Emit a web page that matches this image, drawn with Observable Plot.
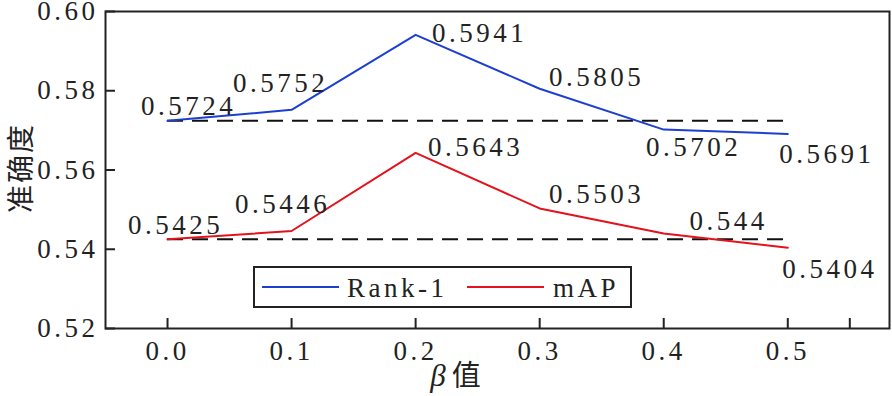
<!DOCTYPE html>
<html><head><meta charset="utf-8">
<script src="https://cdn.jsdelivr.net/npm/d3@7"></script>
<script src="https://cdn.jsdelivr.net/npm/@observablehq/plot@0.6"></script>
<style>
body{margin:0;background:#fff;}
#chart{position:relative;width:892px;height:396px;}
#chart svg text{letter-spacing:3.5px;font-family:'Liberation Serif','Times New Roman','DejaVu Serif',serif;}
#chart svg text.cjk{letter-spacing:2px;font-family:'Noto Sans CJK SC',sans-serif;}
#legend{position:absolute;left:253px;top:266px;}
</style></head>
<body><div id="chart"></div>
<script>
const betas = [0, 0.1, 0.2, 0.3, 0.4, 0.5];
const rank1 = [0.5724, 0.5752, 0.5941, 0.5805, 0.5702, 0.5691];
const mAP = [0.5425, 0.5446, 0.5643, 0.5503, 0.544, 0.5404];
const rank1Labels = ["0.5724", "0.5752", "0.5941", "0.5805", "0.5702", "0.5691"];
const mAPLabels = ["0.5425", "0.5446", "0.5643", "0.5503", "0.544", "0.5404"];
const seriesNames = ["Rank-1", "mAP"];
const seriesColors = ["#1c3fd2", "#e3121b"];
const xTickValues = [0, 0.1, 0.2, 0.3, 0.4, 0.5, 0.55];
const xTickLabels = ["0.0", "0.1", "0.2", "0.3", "0.4", "0.5", ""];
const yTickValues = [0.52, 0.54, 0.56, 0.58, 0.60];
const yTickLabels = ["0.52", "0.54", "0.56", "0.58", "0.60"];
const xLabelSymbol = "β";
const xLabelText = "值";
const yLabel = "准确度";

// label placement (pixel offsets from each point)
const rank1Dx = [21, -11, 64, 57, 30, 39], rank1Dy = [-6, -18, 7, -3, 26, 29];
const mapDx = [8, -9, 60, 57, 65, 42], mapDy = [-5, -18, 3, -5, -3, 30];

const rows = [];
betas.forEach((b, i) => rows.push({beta: b, value: rank1[i], series: seriesNames[0]}));
betas.forEach((b, i) => rows.push({beta: b, value: mAP[i], series: seriesNames[1]}));
const baselines = [rank1[0], mAP[0]];

const labelMarks = [];
[[rank1, rank1Labels, rank1Dx, rank1Dy], [mAP, mAPLabels, mapDx, mapDy]].forEach(([vals, labs, dxs, dys]) => {
  betas.forEach((b, i) => labelMarks.push(Plot.text([i], {
    x: j => betas[j], y: j => vals[j], text: j => labs[j],
    dx: dxs[i], dy: dys[i], lineAnchor: "bottom", textAnchor: "middle",
    fontSize: 27, fill: "#222"
  })));
});

const plot = Plot.plot({
  width: 892, height: 396,
  marginLeft: 105, marginRight: 3, marginTop: 11, marginBottom: 68,
  style: {background: "#fff", color: "#222"},
  x: {domain: [-0.05, 0.582]},
  y: {domain: [0.52, 0.60]},
  color: {domain: seriesNames, range: seriesColors},
  marks: [
    Plot.ruleY(baselines, {x1: betas[0], x2: betas[betas.length - 1], stroke: "#111", strokeWidth: 2, strokeDasharray: "16,9"}),
    Plot.line(rows, {x: "beta", y: "value", z: "series", stroke: "series", strokeWidth: 2}),
    ...labelMarks,
    Plot.axisX({ticks: xTickValues, tickFormat: d => xTickLabels[xTickValues.indexOf(d)], tickSize: -10, tickPadding: 22, fontSize: 27, strokeWidth: 2, label: null}),
    Plot.axisY({ticks: yTickValues, tickFormat: d => yTickLabels[yTickValues.findIndex(v => Math.abs(v - d) < 1e-9)], tickSize: -10, tickPadding: 17, fontSize: 27, strokeWidth: 2, label: null}),
    Plot.text([yLabel], {frameAnchor: "left", textAnchor: "middle", lineAnchor: "middle", dx: -83, dy: -2, rotate: -90, fontSize: 28, fill: "#222"}),
    Plot.text([xLabelSymbol + xLabelText], {frameAnchor: "bottom", textAnchor: "middle", lineAnchor: "middle", dx: -41, dy: 48, fontSize: 29, fill: "#222"}),
    Plot.frame({stroke: "#222", strokeWidth: 2})
  ]
});
document.getElementById("chart").appendChild(plot);
d3.select(plot).selectAll("text").filter(function() { return /[\u4e00-\u9fff]/.test(this.textContent); })
  .classed("cjk", true)
  .each(function() {
    const t = d3.select(this);
    if (t.text() === xLabelSymbol + xLabelText) {
      t.text(null);
      t.append("tspan").text(xLabelSymbol).style("font-family", "'Liberation Serif','DejaVu Serif',serif").style("font-style", "italic").style("font-size", "31px");
      t.append("tspan").text(xLabelText).attr("dx", 4);
    }
  });

// legend drawn inside the plot area
const lg = d3.select("#chart").append("svg").attr("id", "legend").attr("width", 380).attr("height", 43);
lg.append("rect").attr("x", 1).attr("y", 1).attr("width", 377).attr("height", 40).attr("fill", "#fff").attr("stroke", "#222").attr("stroke-width", 2);
const lineStarts = [9, 214], textStarts = [94, 300];
seriesNames.forEach((s, i) => {
  lg.append("line").attr("x1", lineStarts[i]).attr("x2", lineStarts[i] + 77).attr("y1", 21).attr("y2", 21).attr("stroke", seriesColors[i]).attr("stroke-width", 2);
  lg.append("text").attr("x", textStarts[i]).attr("y", 31).text(s).attr("font-size", 27).attr("fill", "#222");
});
</script>
</body></html>
